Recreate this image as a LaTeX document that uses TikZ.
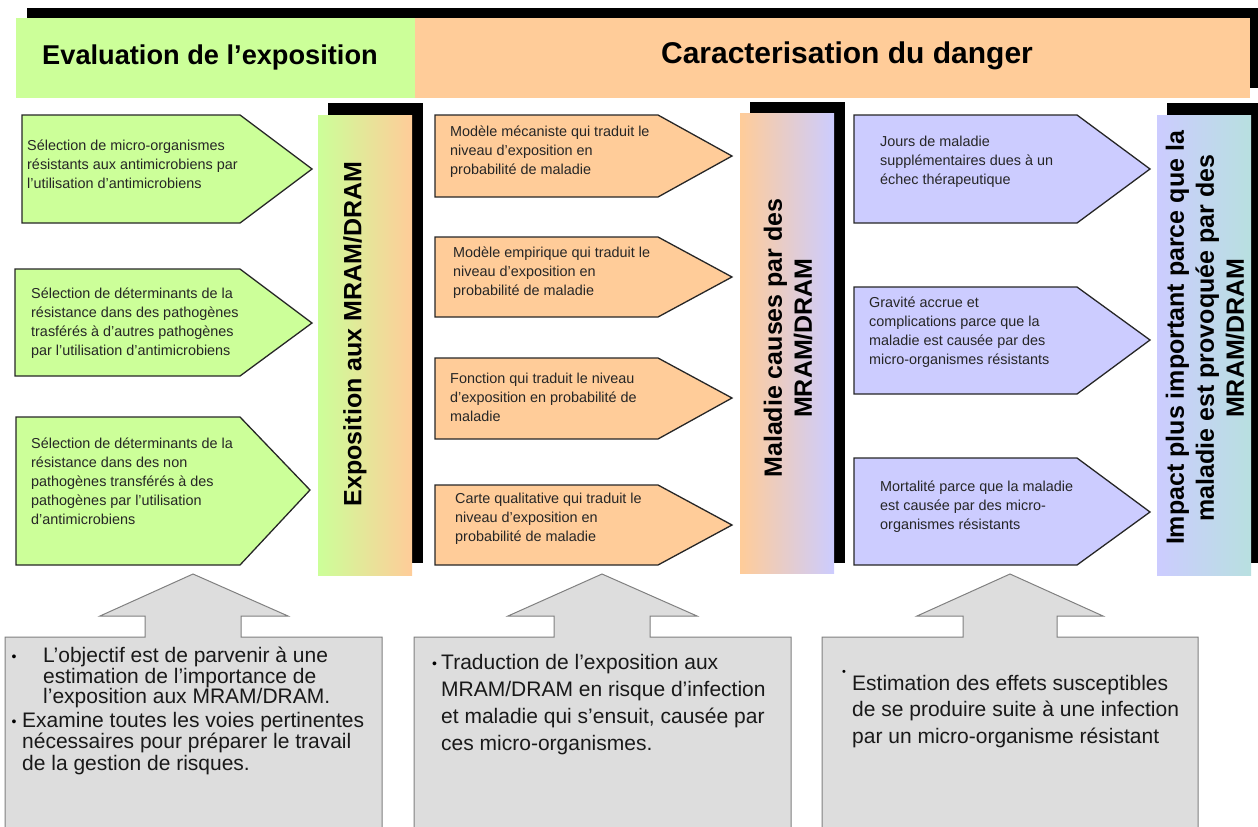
\documentclass[tikz,border=0pt]{standalone}
\usepackage{fontspec}
\setmainfont{Liberation Sans}
\definecolor{cgreen}{HTML}{CCFF99}
\definecolor{corange}{HTML}{FFCC99}
\definecolor{clav}{HTML}{CCCCFF}
\definecolor{cteal}{HTML}{B8E0E0}
\definecolor{cgray}{HTML}{DDDDDD}
\definecolor{cgrayline}{HTML}{808080}
\tikzset{
  arrowbox/.style={draw=black!85, line width=1.3pt, line join=miter},
  atext/.style={anchor=west, align=left, inner sep=0pt, text=black!85, font=\fontsize{14.4}{19}\selectfont},
  bartext/.style={rotate=90, align=center, inner sep=0pt, font=\bfseries\fontsize{25}{30}\selectfont},
  shadowbar/.style={fill=black},
  graybox/.style={fill=cgray, draw=cgrayline, line width=1pt},
  btext/.style={anchor=west, align=left, inner sep=0pt, text=black!90, font=\fontsize{21}{27}\selectfont},
  bul/.style={inner sep=0pt, font=\fontsize{14}{14}\selectfont},
}
\begin{document}
\begin{tikzpicture}[x=1pt,y=-1pt]
\useasboundingbox (0,0) rectangle (1258,827);
% header
\fill[black] (27,8) rectangle (1260,88);
\fill[cgreen] (16,18) rectangle (415,98);
\fill[corange] (415,18) rectangle (1250,98);
\node[inner sep=0pt, font=\bfseries\fontsize{27.2}{30}\selectfont] (h1) at (210,57) {Evaluation de l’exposition};
\node[inner sep=0pt, font=\bfseries\fontsize{30}{32}\selectfont] (h2) at (847,56) {Caracterisation du danger};

% vertical bars
\fill[shadowbar] (328,103) rectangle (423,563);
\shade[left color=cgreen, right color=corange] (318,115) rectangle (412,575);
\node[bartext] (v1) at (355,334) {Exposition aux MRAM/DRAM};

\fill[shadowbar] (750,102) rectangle (845,563);
\shade[left color=corange, right color=clav] (740,113) rectangle (834,573);
\node[bartext] (v2) at (788,338) {Maladie causes par des\\MRAM/DRAM};

\fill[shadowbar] (1167,103) rectangle (1260,563);
\shade[left color=clav, right color=cteal] (1157,115) rectangle (1251,575);
\node[bartext] (v3) at (1205,338) {Impact plus important parce que la\\maladie est provoquée par des\\MRAM/DRAM};

% column 1 arrows
\filldraw[arrowbox, fill=cgreen] (22,115) -- (240,115) -- (312,169) -- (240,223) -- (22,223) -- cycle;
\filldraw[arrowbox, fill=cgreen] (15,269) -- (240,269) -- (312,323) -- (240,376) -- (15,376) -- cycle;
\filldraw[arrowbox, fill=cgreen] (16,417) -- (240,417) -- (310,490) -- (240,565) -- (16,565) -- cycle;
\node[atext] (a1) at (27,164) {Sélection de micro-organismes\\résistants aux antimicrobiens par\\l’utilisation d’antimicrobiens};
\node[atext] (a2) at (31,323) {Sélection de déterminants de la\\résistance dans des pathogènes\\trasférés à d’autres pathogènes\\par l’utilisation d’antimicrobiens};
\node[atext] (a3) at (31,481) {Sélection de déterminants de la\\résistance dans des non\\pathogènes transférés à des\\pathogènes par l’utilisation\\d’antimicrobiens};

% column 2 arrows
\filldraw[arrowbox, fill=corange] (435,115) -- (658,115) -- (732,156) -- (658,197) -- (435,197) -- cycle;
\filldraw[arrowbox, fill=corange] (435,237) -- (658,237) -- (732,277) -- (658,317) -- (435,317) -- cycle;
\filldraw[arrowbox, fill=corange] (435,358) -- (658,358) -- (732,398) -- (658,439) -- (435,439) -- cycle;
\filldraw[arrowbox, fill=corange] (435,485) -- (658,485) -- (732,525) -- (658,565) -- (435,565) -- cycle;
\node[atext] (b1) at (450,152) {Modèle mécaniste qui traduit le\\niveau d’exposition en\\probabilité de maladie};
\node[atext] (b2) at (453,273) {Modèle empirique qui traduit le\\niveau d’exposition en\\probabilité de maladie};
\node[atext] (b3) at (450,397) {Fonction qui traduit le niveau\\d’exposition en probabilité de\\maladie};
\node[atext] (b4) at (455,519) {Carte qualitative qui traduit le\\niveau d’exposition en\\probabilité de maladie};

% column 3 arrows
\filldraw[arrowbox, fill=clav] (854,115) -- (1077,115) -- (1150,169) -- (1077,223) -- (854,223) -- cycle;
\filldraw[arrowbox, fill=clav] (854,287) -- (1077,287) -- (1150,340) -- (1077,394) -- (854,394) -- cycle;
\filldraw[arrowbox, fill=clav] (854,458) -- (1077,458) -- (1150,512) -- (1077,565) -- (854,565) -- cycle;
\node[atext] (c1) at (880,162) {Jours de maladie\\supplémentaires dues à un\\échec thérapeutique};
\node[atext] (c2) at (869,332) {Gravité accrue et\\complications parce que la\\maladie est causée par des\\micro-organismes résistants};
\node[atext] (c3) at (880,507) {Mortalité parce que la maladie\\est causée par des micro-\\organismes résistants};

% bottom boxes with up arrows
\fill[cgray] (5,828) -- (5,637) -- (145,637) -- (145,616) -- (100,616) -- (193,574) -- (288,616) -- (241,616) -- (241,637) -- (382,637) -- (382,828) -- cycle;
\draw[cgrayline, line width=1pt] (5,828) -- (5,637) -- (145,637) -- (145,616) -- (100,616) -- (193,574) -- (288,616) -- (241,616) -- (241,637) -- (382,637) -- (382,828);
\fill[cgray] (414,828) -- (414,637) -- (554,637) -- (554,616) -- (508,616) -- (602,574) -- (697,616) -- (650,616) -- (650,637) -- (791,637) -- (791,828) -- cycle;
\draw[cgrayline, line width=1pt] (414,828) -- (414,637) -- (554,637) -- (554,616) -- (508,616) -- (602,574) -- (697,616) -- (650,616) -- (650,637) -- (791,637) -- (791,828);
\fill[cgray] (822,828) -- (822,637) -- (963,637) -- (963,616) -- (917,616) -- (1010,574) -- (1103,616) -- (1057,616) -- (1057,637) -- (1198,637) -- (1198,828) -- cycle;
\draw[cgrayline, line width=1pt] (822,828) -- (822,637) -- (963,637) -- (963,616) -- (917,616) -- (1010,574) -- (1103,616) -- (1057,616) -- (1057,637) -- (1198,637) -- (1198,828);

\node[bul] (d1) at (14,658) {•};
\node[btext, font=\fontsize{21}{20.8}\selectfont] (e1) at (43,677.5) {L’objectif est de parvenir à une\\estimation de l’importance de\\l’exposition aux MRAM/DRAM.};
\node[bul] (d2) at (14,723) {•};
\node[btext, font=\fontsize{21}{21.3}\selectfont] (e2) at (22,743.5) {Examine toutes les voies pertinentes\\nécessaires pour préparer le travail\\de la gestion de risques.};

\node[bul] (d3) at (434.5,665) {•};
\node[btext] (e3) at (441,705) {Traduction de l’exposition aux\\MRAM/DRAM en risque d’infection\\et maladie qui s’ensuit, causée par\\ces micro-organismes.};

\node[bul, font=\fontsize{11}{11}\selectfont] (d4) at (844,673) {•};
\node[btext, font=\fontsize{21}{26.5}\selectfont] (e4) at (852,711.5) {Estimation des effets susceptibles\\de se produire suite à une infection\\par un micro-organisme résistant};
\end{tikzpicture}
\end{document}
